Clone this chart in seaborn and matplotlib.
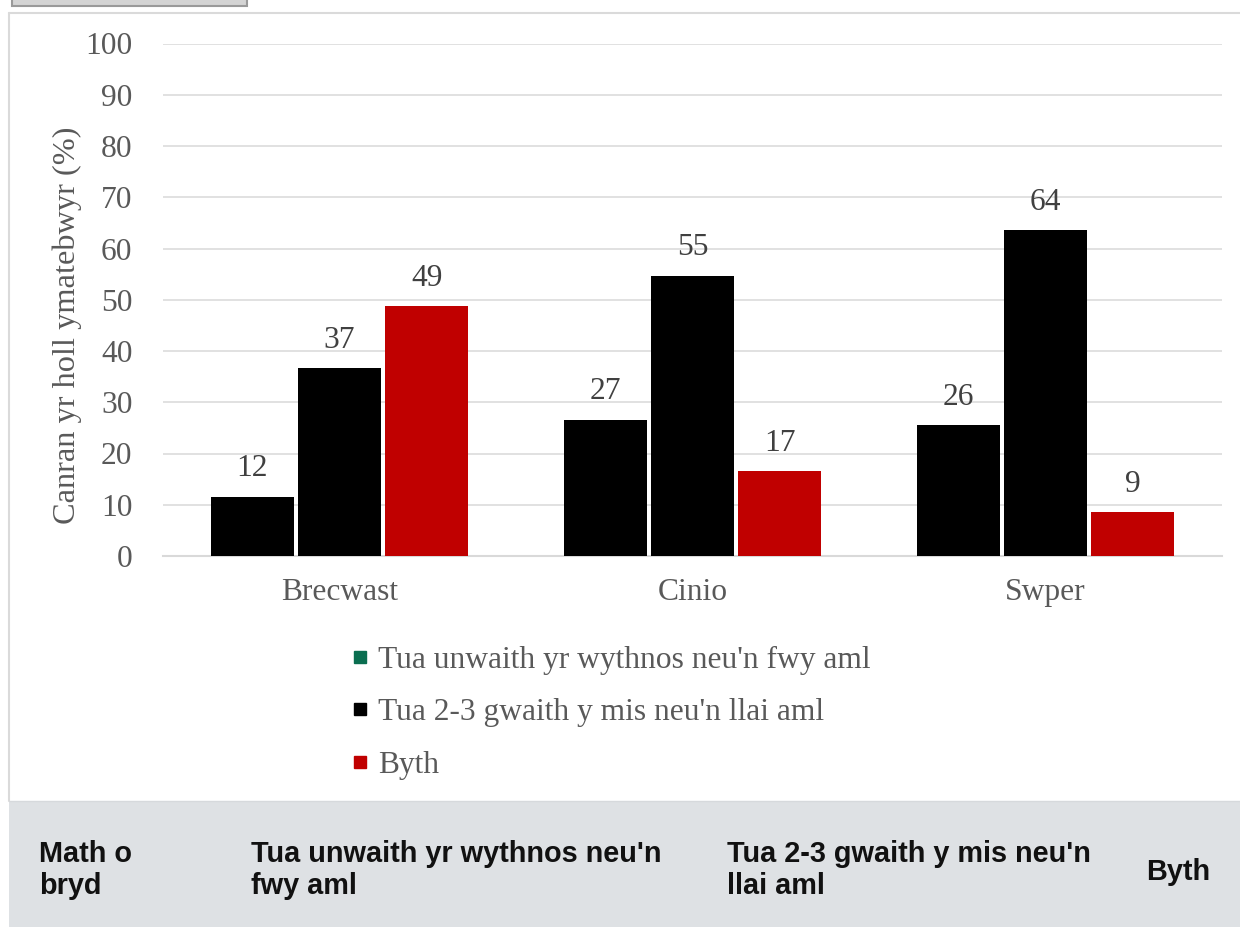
import matplotlib
matplotlib.use("Agg")
import matplotlib.pyplot as plt
from matplotlib.lines import Line2D
from matplotlib.patches import Rectangle
import seaborn as sns
import pandas as pd

# ---- data ----
meals = ["Brecwast", "Cinio", "Swper"]
series_names = ["Tua unwaith yr wythnos neu'n fwy aml",
                "Tua 2-3 gwaith y mis neu'n llai aml",
                "Byth"]
weekly = [11.6, 26.6, 25.6]
monthly = [36.6, 54.7, 63.6]
never = [48.7, 16.6, 8.6]
y_ticks = [0, 10, 20, 30, 40, 50, 60, 70, 80, 90, 100]
y_label = "Canran yr holl ymatebwyr (%)"
table_header = ["Math o\nbryd",
                "Tua unwaith yr wythnos neu'n\nfwy aml",
                "Tua 2-3 gwaith y mis neu'n\nllai aml",
                "Byth"]

bar_colors = ["#000000", "#000000", "#C00000"]
legend_colors = ["#0A6E50", "#000000", "#C00000"]

rows = []
for vals, name in zip([weekly, monthly, never], series_names):
    for m, v in zip(meals, vals):
        rows.append({"meal": m, "series": name, "value": v})
df = pd.DataFrame(rows)

sns.set_theme(style="white")
plt.rcParams["font.family"] = ["Liberation Serif", "DejaVu Serif"]

FS = 22.7
W, H = 1240, 927
fig = plt.figure(figsize=(W / 100, H / 100), dpi=100)
fig.patch.set_facecolor("white")

def fx(px):
    return px / W

def fy(py):
    return 1 - py / H

# background decorations: frame, table band, top box
fig.add_artist(Rectangle((fx(9), fy(927)), fx(1240) - fx(9), fy(801) - fy(927),
                         transform=fig.transFigure, facecolor="#DEE1E4",
                         edgecolor="none", zorder=0))
fig.add_artist(Line2D([fx(9), fx(1240)], [fy(13), fy(13)], transform=fig.transFigure,
                      color="#DADADA", lw=1.5, zorder=1))
fig.add_artist(Line2D([fx(9), fx(9)], [fy(13), fy(801)], transform=fig.transFigure,
                      color="#DADADA", lw=1.5, zorder=1))
fig.add_artist(Line2D([fx(9), fx(1240)], [fy(801), fy(801)], transform=fig.transFigure,
                      color="#D6D9DC", lw=1.0, zorder=1))
fig.add_artist(Rectangle((fx(12), fy(6)), fx(247) - fx(12), fy(0) - fy(6) + 0.01,
                         transform=fig.transFigure, facecolor="#D4D4D4",
                         edgecolor="#9A9A9A", lw=1.5, zorder=1))

ax = fig.add_axes([fx(163), fy(556), fx(1222) - fx(163), fy(43.5) - fy(556)])
ax.set_facecolor("none")

sns.barplot(data=df, x="meal", y="value", hue="series", palette=bar_colors,
            width=0.74, gap=0.045, saturation=1, errorbar=None, legend=False,
            linewidth=0, ax=ax, zorder=3)

for cont in ax.containers:
    ax.bar_label(cont, fmt="%.0f", padding=9.5, fontsize=FS, color="#404040",
                 family="Liberation Serif")

ax.set_ylim(0, 100)
ax.set_xlim(-0.5, 2.5)
ax.set_yticks(y_ticks)
ax.set_yticklabels([str(t) for t in y_ticks])
ax.yaxis.grid(True, color="#D9D9D9", lw=1.1, zorder=0)
ax.set_axisbelow(True)
for s in ["left", "right", "top"]:
    ax.spines[s].set_visible(False)
ax.spines["bottom"].set_color("#D9D9D9")
ax.spines["bottom"].set_linewidth(1.5)
ax.tick_params(axis="y", length=0, pad=22, labelsize=FS, labelcolor="#595959")
ax.tick_params(axis="x", which="major", length=0, pad=16, labelsize=FS,
               labelcolor="#595959")
ax.set_xticks([-0.5, 0.5, 1.5, 2.5], minor=True)
ax.tick_params(axis="x", which="minor", length=5, width=1.2, color="#D9D9D9",
               direction="out")
ax.set_xlabel("")
ax.set_ylabel("")

fig.text(fx(67), fy(325), y_label, rotation=90, ha="center", va="center",
         fontsize=23.3, color="#595959", family="Liberation Serif")

handles = [Line2D([], [], marker="s", linestyle="none", markersize=9.3,
                  markerfacecolor=c, markeredgecolor=c) for c in legend_colors]
fig.legend(handles, series_names, loc="upper left",
           bbox_to_anchor=(fx(353), fy(646)), frameon=False,
           prop={"family": "Liberation Serif", "size": FS},
           labelcolor="#595959", handlelength=0.42, handletextpad=0.38,
           labelspacing=0.74, borderpad=0, borderaxespad=0)

# table header texts
TFS = 20.8
col_x = [39, 251, 727]
for x, txt in zip(col_x, table_header[:3]):
    l1, l2 = txt.split("\n")
    fig.text(fx(x), fy(862), l1, ha="left", va="baseline", fontsize=TFS,
             fontweight="bold", family="Liberation Sans", color="#111111")
    fig.text(fx(x), fy(894), l2, ha="left", va="baseline", fontsize=TFS,
             fontweight="bold", family="Liberation Sans", color="#111111")
fig.text(fx(1146), fy(880), table_header[3], ha="left", va="baseline", fontsize=TFS,
         fontweight="bold", family="Liberation Sans", color="#111111")

fig.savefig("out.png", dpi=100)
